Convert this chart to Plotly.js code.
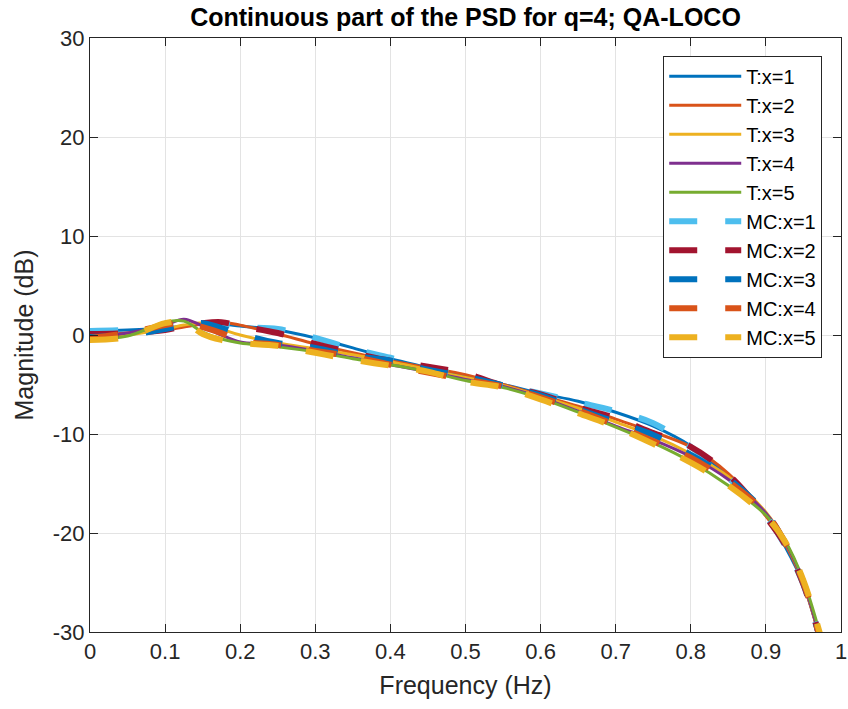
<!DOCTYPE html>
<html>
<head>
<meta charset="utf-8">
<script src="https://cdn.plot.ly/plotly-3.0.1.min.js"></script>
<style>html,body{margin:0;padding:0;background:#fff;}#chart{width:848px;height:709px;}</style>
</head>
<body>
<div id="chart"></div>
<script>
const freq = [0,0.05,0.1,0.125,0.15,0.175,0.2,0.25,0.3,0.35,0.4,0.45,0.5,0.55,0.6,0.65,0.7,0.75,0.8,0.85,0.9,0.925,0.95,0.975];

const T1 = [0.4,0.5,0.7,0.9,1.1,1.1,0.9,0.5,-0.3,-1.3,-2.4,-3.3,-4.2,-5.0,-5.9,-6.7,-7.8,-9.2,-11.2,-14.3,-18.2,-21.3,-25.2,-31.5];
const T2 = [0.0,0.2,0.5,0.8,1.1,1.3,1.0,0.1,-0.9,-1.8,-2.6,-3.3,-4.0,-5.0,-6.1,-7.2,-8.5,-9.8,-11.3,-14.0,-18.3,-21.0,-25.2,-31.5];
const T3 = [-0.3,0.0,0.6,1.0,1.2,0.6,0.0,-0.8,-1.4,-2.0,-2.7,-3.5,-4.3,-5.1,-6.2,-7.4,-8.8,-10.2,-12.0,-14.3,-17.9,-20.8,-25.0,-31.5];
const T4 = [-0.2,0.2,1.0,1.6,0.9,0.0,-0.7,-1.0,-1.6,-2.3,-3.0,-3.7,-4.5,-5.2,-6.3,-7.7,-9.2,-10.6,-12.3,-14.6,-18.0,-20.8,-25.0,-31.5];
const T5 = [-0.4,-0.1,1.3,1.4,0.3,-0.4,-0.8,-1.2,-1.7,-2.4,-3.0,-3.7,-4.6,-5.3,-6.4,-7.8,-9.3,-10.9,-12.8,-15.2,-18.2,-20.7,-24.8,-31.0];

const MC1 = [0.4,0.5,0.7,0.9,1.0,1.1,0.8,0.6,-0.3,-1.4,-2.3,-3.3,-4.2,-5.1,-5.9,-6.8,-7.7,-8.9,-11.3,-14.4,-18.3,-21.2,-25.2,-31.5];
const MC2 = [0.1,0.2,0.5,0.9,1.2,1.3,0.9,0.2,-0.9,-1.8,-2.6,-3.2,-3.9,-5.1,-6.0,-7.3,-8.4,-9.9,-11.3,-14.1,-18.4,-21.1,-25.2,-31.5];
const MC3 = [-0.2,0.0,0.6,1.0,1.2,0.7,0.1,-0.8,-1.3,-2.1,-2.6,-3.5,-4.2,-5.1,-6.1,-7.5,-8.8,-10.1,-12.1,-14.5,-18.0,-20.9,-25.0,-31.5];
const MC4 = [-0.3,0.2,1.0,1.3,0.8,0.2,-0.6,-1.0,-1.6,-2.2,-3.0,-3.8,-4.5,-5.2,-6.3,-7.6,-9.1,-10.7,-12.4,-14.8,-18.0,-20.9,-25.0,-31.5];
const MC5 = [-0.5,-0.2,1.2,1.3,0.1,-0.5,-0.8,-1.1,-1.8,-2.5,-3.1,-3.7,-4.7,-5.3,-6.5,-7.9,-9.3,-11.0,-12.9,-15.2,-18.3,-20.8,-24.8,-31.0];

const xTickVals = [0,0.1,0.2,0.3,0.4,0.5,0.6,0.7,0.8,0.9,1];
const xTickText = ['0','0.1','0.2','0.3','0.4','0.5','0.6','0.7','0.8','0.9','1'];
const yTickVals = [-30,-20,-10,0,10,20,30];
const yTickText = ['-30','-20','-10','0','10','20','30'];

const tNames = ['T:x=1','T:x=2','T:x=3','T:x=4','T:x=5'];
const mcNames = ['MC:x=1','MC:x=2','MC:x=3','MC:x=4','MC:x=5'];
const tSeries = [T1,T2,T3,T4,T5];
const mcSeries = [MC1,MC2,MC3,MC4,MC5];
const tColors = ['#0072BD','#D95319','#EDB120','#7E2F8E','#77AC30'];
const mcColors = ['#4DBEEE','#A2142F','#0072BD','#D95319','#EDB120'];

const traces = [];
tSeries.forEach((s,i)=>traces.push({
  x: freq, y: s, type:'scatter', mode:'lines', name: tNames[i],
  line:{color:tColors[i], width:3, shape:'spline', smoothing:1}
}));
mcSeries.forEach((s,i)=>traces.push({
  x: freq, y: s, type:'scatter', mode:'lines', name: mcNames[i],
  line:{color:mcColors[i], width:6, dash:'28px,28px', shape:'spline', smoothing:1}
}));

const fontFam = 'Liberation Sans, Arial, Helvetica, sans-serif';
const layout = {
  width:848, height:709,
  margin:{l:90, r:7, t:38, b:77},
  paper_bgcolor:'#fff', plot_bgcolor:'#fff',
  font:{family:fontFam, color:'#262626', size:22},
  title:{text:'Continuous part of the PSD for q=4; QA-LOCO', x:0.5, xanchor:'center', xref:'paper', y:0.975, yanchor:'middle',
         font:{family:fontFam, size:25, weight:'bold', color:'#000'}},
  xaxis:{range:[0,1], tickmode:'array', tickvals:xTickVals, ticktext:xTickText,
         showgrid:true, gridcolor:'#e3e3e3', gridwidth:1,
         zeroline:false, showline:true, linecolor:'#262626', linewidth:1, mirror:'allticks',
         ticks:'inside', ticklen:8, tickcolor:'#262626', ticklabeloverflow:'allow',
         tickfont:{size:22, color:'#262626'},
         title:{text:'Frequency (Hz)', font:{size:25, color:'#262626'}, standoff:13}},
  yaxis:{range:[-30,30], tickmode:'array', tickvals:yTickVals, ticktext:yTickText,
         showgrid:true, gridcolor:'#e3e3e3', gridwidth:1,
         zeroline:false, showline:true, linecolor:'#262626', linewidth:1, mirror:'allticks',
         ticks:'inside', ticklen:8, tickcolor:'#262626',
         tickfont:{size:22, color:'#262626'},
         title:{text:'Magnitude (dB)', font:{size:25, color:'#262626'}, standoff:12}},
  legend:{x:0.975, xanchor:'right', y:0.97, yanchor:'top', bgcolor:'#fff',
          bordercolor:'#262626', borderwidth:1, font:{size:20, color:'#000'},
          itemwidth:72, tracegroupgap:0},
  showlegend:true
};
Plotly.newPlot('chart', traces, layout, {displayModeBar:false, staticPlot:true});
</script>
</body>
</html>
